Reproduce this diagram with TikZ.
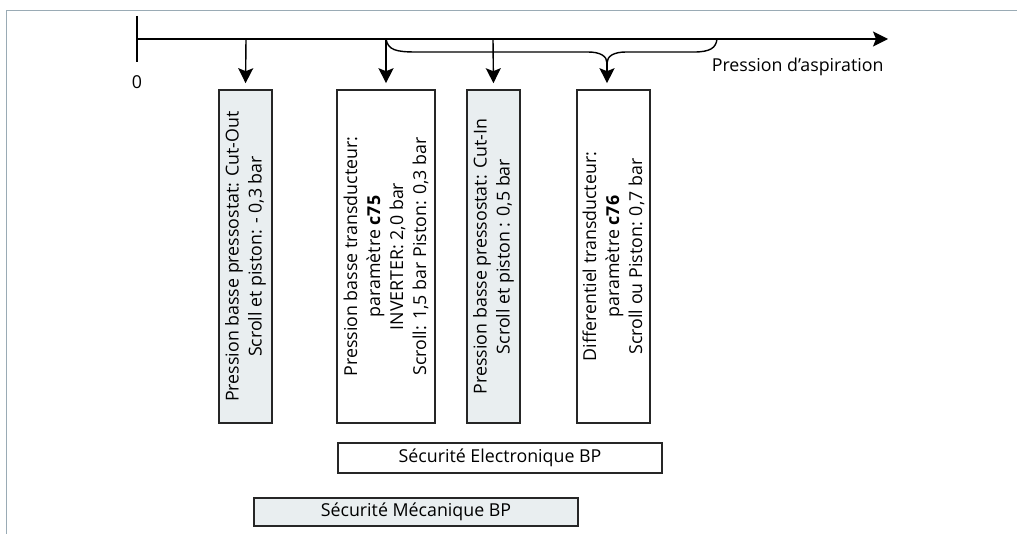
\documentclass[tikz,border=0pt]{standalone}
\usepackage{fontspec}
\setmainfont{Open Sans}
\usetikzlibrary{arrows.meta}
\definecolor{framecol}{HTML}{9AABB5}
\definecolor{boxgray}{HTML}{E9EEF0}
\tikzset{
  txt/.style={font=\fontsize{17.8}{23}\selectfont, align=center},
  vbox/.style={draw=black!85, line width=1.6pt, rotate=90, minimum width=333pt, inner sep=0pt, txt},
  hbox/.style={draw=black!85, line width=1.6pt, inner sep=0pt, txt},
  grayfill/.style={fill=boxgray},
  arr/.style={line width=1.4pt, -{Stealth[length=15pt,width=15pt,inset=3pt]}},
  ln/.style={line width=1.4pt},
}
\begin{document}
\begin{tikzpicture}[x=1pt,y=-1pt]
\useasboundingbox (0,0) rectangle (1017,534);
% frame
\draw[framecol, line width=1.5pt] (6.5,534) -- (6.5,10.5) -- (1017,10.5);
% axis
\coordinate (o) at (137,39);
\coordinate (end) at (888,39);
\coordinate (t1) at (137,16);
\coordinate (t2) at (137,62);
\draw[ln] (t1) -- (t2);
\draw[arr] (o) -- (end);
\node[txt, anchor=center] (zero) at (137,82.5) {0};
\node[txt, anchor=base east] (pa) at (887,72) {Pression d'aspiration};
% boxes
\node[vbox, grayfill, minimum height=53pt] (b1) at (245.5,256.5)
  {Pression basse pressostat: Cut-Out\\Scroll et piston: - 0,3 bar};
\node[vbox, minimum height=98pt] (b2) at (386,256.5)
  {Pression basse transducteur:\\param\`etre \textbf{c75}\\INVERTER: 2,0 bar\\Scroll: 1,5 bar Piston: 0,3 bar};
\node[vbox, grayfill, minimum height=53pt] (b3) at (493.5,256.5)
  {Pression basse pressostat: Cut-In\\Scroll et piston : 0,5 bar};
\node[vbox, minimum height=73pt] (b4) at (613.5,256.5)
  {Differentiel transducteur:\\param\`etre \textbf{c76}\\Scroll ou Piston: 0,7 bar};
\node[hbox, minimum width=324pt, minimum height=30pt] (se) at (500,458) {S\'ecurit\'e Electronique BP};
\node[hbox, grayfill, minimum width=324pt, minimum height=28pt] (sm) at (416,512) {S\'ecurit\'e M\'ecanique BP};
% axis points
\coordinate (a1) at (246,39);
\coordinate (a2) at (386,39);
\coordinate (a3) at (493,39);
\coordinate (a4) at (607,63);
\coordinate (bl) at (717,39);
% brace
\draw[ln] (a2) .. controls (388,50) and (396,52) .. (416,52) -- (588,52)
  .. controls (600,52) and (607,56) .. (a4)
  .. controls (607,56) and (614,52) .. (626,52) -- (694,52)
  .. controls (710,52) and (716,48) .. (bl);
\draw[arr, shorten >=6pt] (a1) -- (b1.east);
\draw[arr, shorten >=6pt] (a2) -- (b2.east);
\draw[arr, shorten >=6pt] (a3) -- (b3.east);
\draw[arr, shorten >=6pt] (a4) -- (b4.east -| a4);
\end{tikzpicture}
\end{document}
